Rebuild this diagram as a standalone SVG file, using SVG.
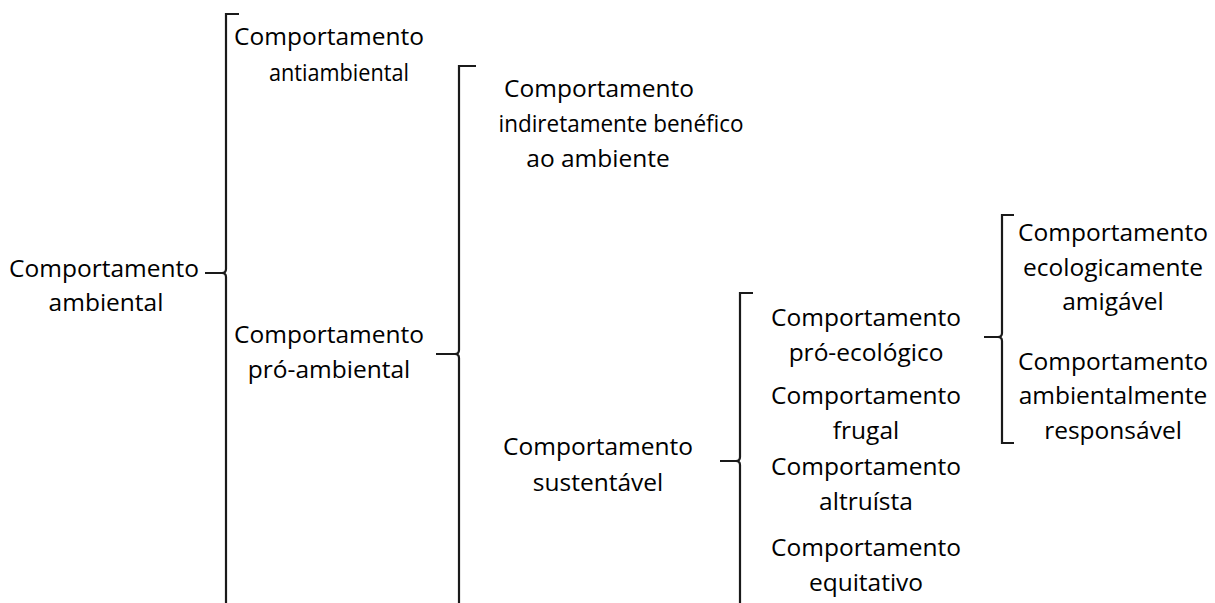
<svg xmlns="http://www.w3.org/2000/svg" width="1215" height="603" viewBox="0 0 1215 603">
<style>
text{font-family:"Open Sans","Noto Sans",sans-serif;font-size:24.5px;fill:#000;text-anchor:middle}
.br{fill:none;stroke:#1a1a1a;stroke-width:2.2;stroke-linejoin:miter}
</style>
<rect width="1215" height="603" fill="#fff"/>
<g id="connectors">
<path class="br" d="M239 14H226V269Q226 273 222 273H205M222 273Q226 273 226 277V603"/>
<path class="br" d="M476 66H459V350Q459 354 455 354H436M455 354Q459 354 459 358V603"/>
<path class="br" d="M753 293H740V457Q740 461 736 461H720M736 461Q740 461 740 465V603"/>
<path class="br" d="M1014 215H1002V333Q1002 337 998 337H984M998 337Q1002 337 1002 341V443H1014"/>
</g>
<g id="n-ambiental"><text x="104" y="277">Comportamento</text><text x="106" y="311">ambiental</text></g>
<g id="n-antiambiental"><text x="329" y="45">Comportamento</text><text x="339" y="81" textLength="140" lengthAdjust="spacingAndGlyphs">antiambiental</text></g>
<g id="n-indiretamente"><text x="599" y="97">Comportamento</text><text x="621" y="132" textLength="245" lengthAdjust="spacingAndGlyphs">indiretamente benéfico</text><text x="598" y="167">ao ambiente</text></g>
<g id="n-proambiental"><text x="329" y="343">Comportamento</text><text x="329" y="378">pró-ambiental</text></g>
<g id="n-sustentavel"><text x="598" y="455">Comportamento</text><text x="598" y="491">sustentável</text></g>
<g id="n-proecologico"><text x="866" y="326">Comportamento</text><text x="866" y="361">pró-ecológico</text></g>
<g id="n-frugal"><text x="866" y="404">Comportamento</text><text x="866" y="439">frugal</text></g>
<g id="n-altruista"><text x="866" y="475">Comportamento</text><text x="866" y="510">altruísta</text></g>
<g id="n-equitativo"><text x="866" y="556">Comportamento</text><text x="866" y="591">equitativo</text></g>
<g id="n-amigavel"><text x="1113" y="241">Comportamento</text><text x="1113" y="276">ecologicamente</text><text x="1113" y="310">amigável</text></g>
<g id="n-responsavel"><text x="1113" y="370">Comportamento</text><text x="1113" y="404">ambientalmente</text><text x="1113" y="439">responsável</text></g>
</svg>
